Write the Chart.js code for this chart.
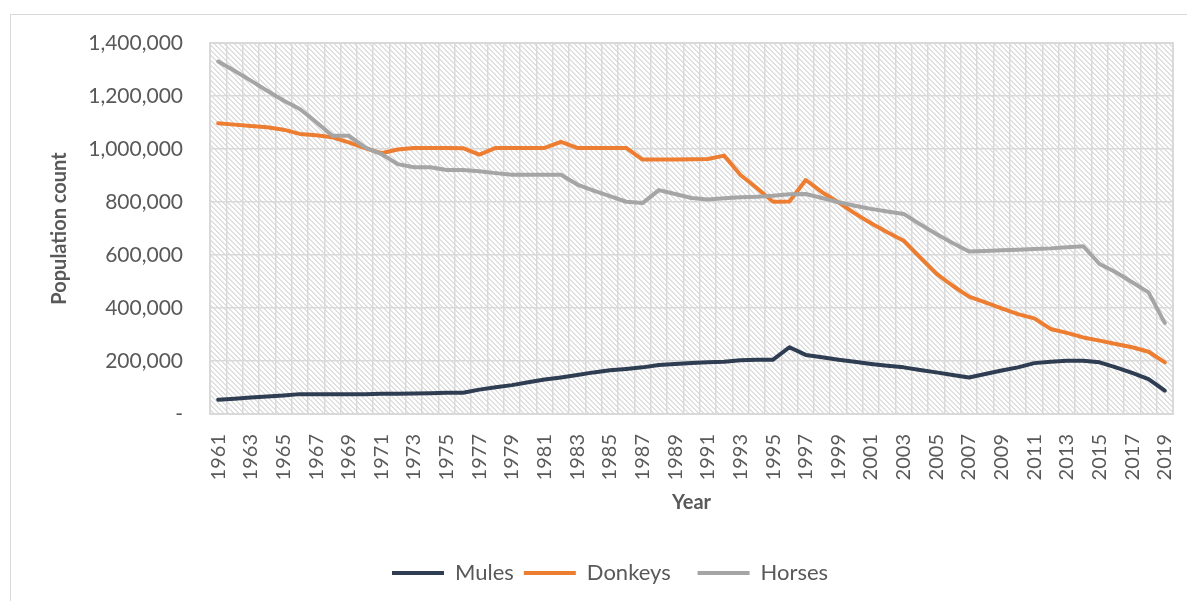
<!DOCTYPE html>
<html>
<head>
<meta charset="utf-8">
<script src="https://cdn.jsdelivr.net/npm/chart.js@4.4.1/dist/chart.umd.min.js"></script>
<style>
  html, body { margin: 0; padding: 0; background: #fff; }
  #wrap { width: 1187px; height: 601px; position: relative; }
</style>
</head>
<body>
<div id="wrap"><canvas id="myChart"></canvas></div>
<script>
// livestock numbers, 1961 - 2019
var years = ['1961','1962','1963','1964','1965','1966','1967','1968','1969','1970',
  '1971','1972','1973','1974','1975','1976','1977','1978','1979','1980',
  '1981','1982','1983','1984','1985','1986','1987','1988','1989','1990',
  '1991','1992','1993','1994','1995','1996','1997','1998','1999','2000',
  '2001','2002','2003','2004','2005','2006','2007','2008','2009','2010',
  '2011','2012','2013','2014','2015','2016','2017','2018','2019'];

var mules = [54000,58000,62000,66000,70000,75000,75000,75000,75000,75000,
  76000,76000,77000,78000,80000,80000,92000,101000,109000,120000,
  130000,138000,147000,157000,165000,170000,176000,185000,189000,192000,
  195000,197000,203000,205000,205000,252000,223000,214000,205000,197000,
  189000,182000,176000,166000,157000,147000,138000,151000,164000,176000,
  192000,197000,201000,201000,195000,176000,155000,132000,88000];

var donkeys = [1097000,1092000,1087000,1082000,1073000,1057000,1052000,1044000,1025000,1003000,
  984000,998000,1004000,1004000,1004000,1003000,979000,1004000,1004000,1004000,
  1004000,1027000,1004000,1004000,1004000,1004000,960000,960000,960000,961000,
  962000,975000,902000,853000,801000,802000,883000,837000,799000,757000,
  720000,686000,654000,591000,530000,484000,443000,421000,399000,377000,
  361000,321000,306000,289000,277000,264000,252000,235000,195000];

var horses = [1330000,1295000,1258000,1220000,1183000,1151000,1102000,1050000,1050000,1006000,
  981000,943000,931000,931000,921000,921000,916000,909000,903000,903000,
  903000,903000,866000,843000,822000,801000,796000,845000,830000,815000,
  809000,814000,818000,820000,824000,829000,830000,815000,799000,786000,
  774000,764000,755000,716000,679000,645000,613000,615000,618000,620000,
  623000,625000,629000,633000,566000,535000,497000,459000,343000];

var yTicks = [0, 200000, 400000, 600000, 800000, 1000000, 1200000, 1400000];

var textColor = '#595959';
var gridColor = '#d9d9d9';
var fontFamily = 'Lato, "Open Sans", sans-serif';

// diagonal hatch used as the plot area fill
var makeHatch = function(ctx){
    var c = document.createElement('canvas');
    c.width = 5; c.height = 5;
    var p = c.getContext('2d');
    p.fillStyle = '#fff';
    p.fillRect(0, 0, 5, 5);
    p.fillStyle = '#e0e0e0';
    for (var i = 0; i < 5; i++) {
        p.fillRect(i, i, 1, 1);
        p.fillRect((i + 1) % 5, i, 1, 1);
    }
    return ctx.createPattern(c, 'repeat');
};

var plotDecor = {
    id: 'plotDecor',
    afterLayout: function(chart){
        // legend sits a bit right of centre in the original
        if (chart.legend) {
            chart.legend.left += 27;
            chart.legend.right += 27;
        }
    },
    beforeDraw: function(chart){
        var ctx = chart.ctx, a = chart.chartArea;
        ctx.save();
        ctx.strokeStyle = gridColor;
        ctx.lineWidth = 1;
        ctx.strokeRect(10.5, 14.5, 1300, 700);
        ctx.fillStyle = makeHatch(ctx);
        ctx.fillRect(a.left, a.top, a.right - a.left, a.bottom - a.top);
        ctx.restore();
    },
    beforeDatasetsDraw: function(chart){
        var ctx = chart.ctx, a = chart.chartArea;
        ctx.save();
        ctx.strokeStyle = gridColor;
        ctx.lineWidth = 2;
        ctx.strokeRect(a.left, a.top, a.right - a.left, a.bottom - a.top);
        ctx.restore();
    }
};

var ctx = document.getElementById('myChart').getContext('2d');
var myChart = new Chart(ctx, {
    type: 'line',
    data: {
        labels: years,
        datasets: [{
            label: 'Mules',
            data: mules,
            borderColor: '#2f3d52',
            backgroundColor: '#2f3d52',
            order: 3
        }, {
            label: 'Donkeys',
            data: donkeys,
            borderColor: '#ed7d31',
            backgroundColor: '#ed7d31',
            order: 2
        }, {
            label: 'Horses',
            data: horses,
            borderColor: '#a5a5a5',
            backgroundColor: '#a5a5a5',
            order: 1
        }]
    },
    options: {
        responsive: true,
        maintainAspectRatio: false,
        animation: false,
        datasets: {
            line: {
                borderWidth: 4,
                pointRadius: 0,
                tension: 0,
                borderCapStyle: 'round',
                borderJoinStyle: 'round'
            }
        },
        layout: {
            padding: {left: 10, top: 43, right: 14, bottom: 7}
        },
        plugins: {
            tooltip: {enabled: false},
            legend: {
                position: 'bottom',
                labels: {
                    usePointStyle: true,
                    pointStyle: 'line',
                    pointStyleWidth: 52,
                    padding: 10,
                    color: textColor,
                    font: {family: fontFamily, size: 22},
                    sort: function(a, b){ return a.datasetIndex - b.datasetIndex; },
                    generateLabels: function(chart){
                        var items = Chart.defaults.plugins.legend.labels.generateLabels(chart);
                        items.forEach(function(it, i){
                            if (i < items.length - 1) it.text = it.text + '   ';
                        });
                        return items;
                    }
                }
            }
        },
        scales: {
            x: {
                offset: true,
                grid: {offset: true, color: gridColor, lineWidth: 1.5, drawTicks: false},
                border: {display: false},
                afterFit: function(scale){
                    scale.height = 138;
                    scale.paddingLeft = 0;
                    scale.paddingRight = 0;
                },
                ticks: {
                    autoSkip: false,
                    maxRotation: 90,
                    minRotation: 90,
                    padding: 20,
                    color: textColor,
                    font: {family: fontFamily, size: 20},
                    callback: function(val, idx){
                        return idx % 2 === 0 ? this.getLabelForValue(val) : '';
                    }
                },
                title: {
                    display: true,
                    text: 'Year',
                    color: textColor,
                    font: {family: fontFamily, size: 20, weight: 'bold'},
                    padding: {top: 0, bottom: 37}
                }
            },
            y: {
                min: 0,
                max: 1400000,
                afterBuildTicks: function(scale){
                    scale.ticks = yTicks.map(function(v){ return {value: v}; });
                },
                afterFit: function(scale){ scale.width = 200; },
                grid: {color: gridColor, lineWidth: 1.5, drawTicks: false},
                border: {display: false},
                ticks: {
                    padding: 27,
                    color: textColor,
                    font: {family: fontFamily, size: 21},
                    callback: function(v){
                        return v === 0 ? '-' : v.toLocaleString('en-US');
                    }
                },
                title: {
                    display: true,
                    text: 'Population count',
                    color: textColor,
                    font: {family: fontFamily, size: 20, weight: 'bold'},
                    padding: {top: 38, bottom: 0}
                }
            }
        }
    },
    plugins: [plotDecor]
});
</script>
</body>
</html>
